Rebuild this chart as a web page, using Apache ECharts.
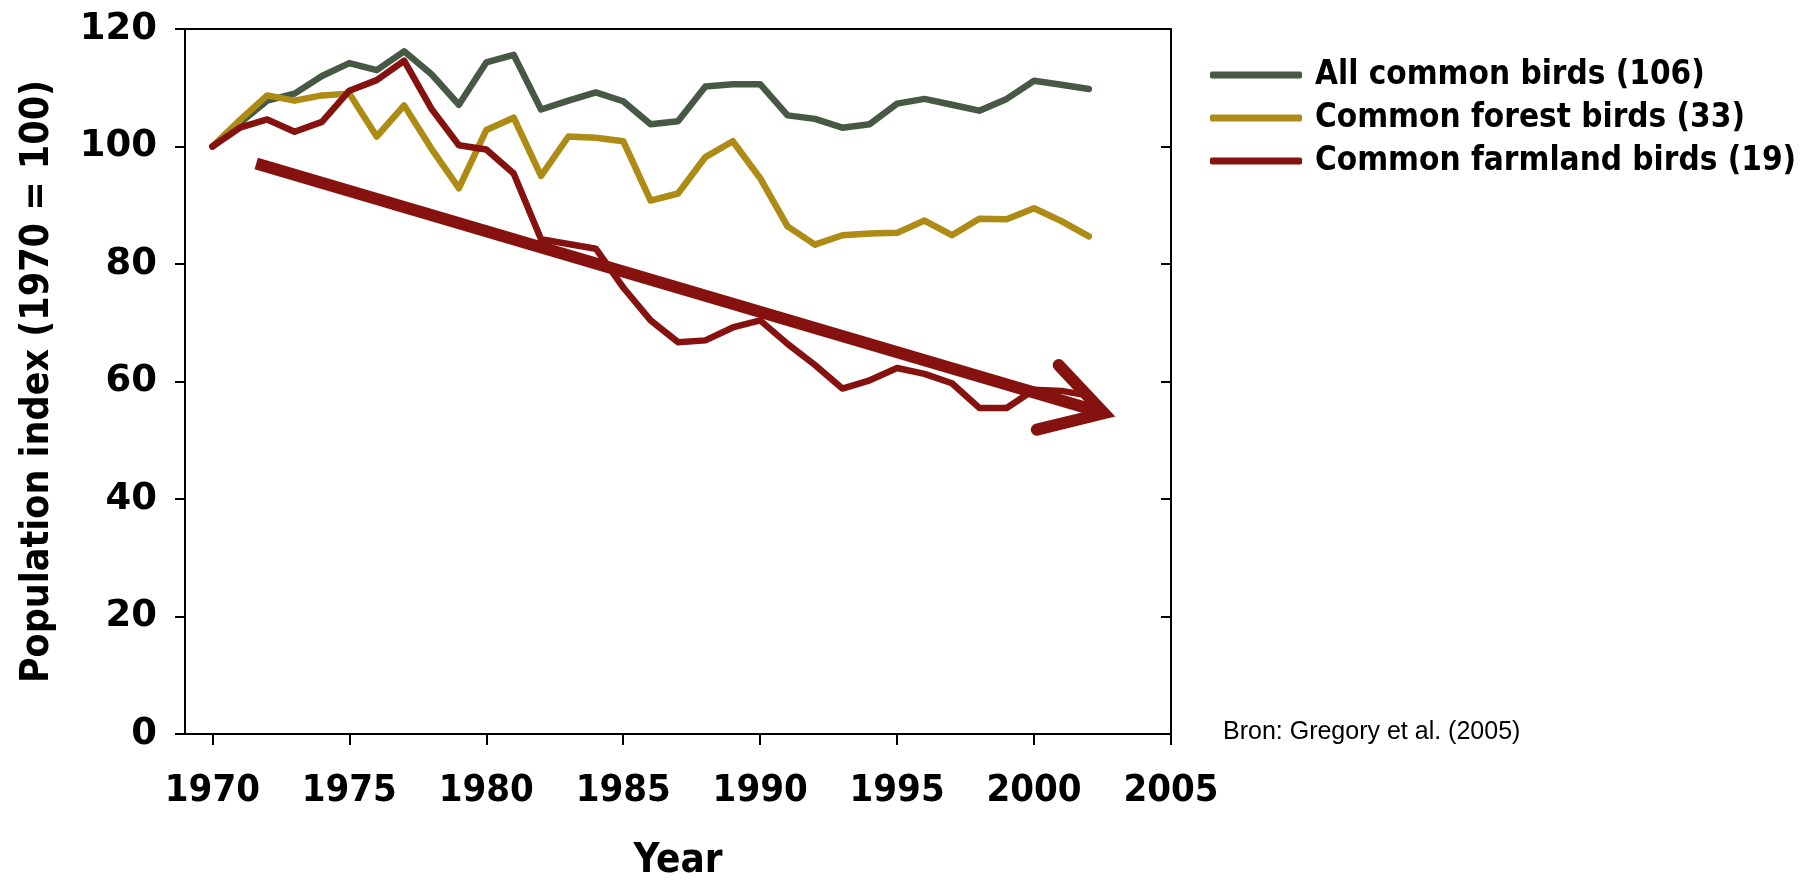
<!DOCTYPE html>
<html>
<head>
<meta charset="utf-8">
<script src="https://cdn.jsdelivr.net/npm/echarts@6/dist/echarts.min.js"></script>
<style>
html,body{margin:0;padding:0;background:#fff;}
#chart{width:1806px;height:887px;}
</style>
</head>
<body>
<div id="chart"></div>
<script>
// data
var years = [1970,1971,1972,1973,1974,1975,1976,1977,1978,1979,1980,1981,1982,1983,1984,1985,1986,1987,1988,1989,1990,1991,1992,1993,1994,1995,1996,1997,1998,1999,2000,2001,2002];
var allBirds = [100,104,107.8,109,112,114.2,113,116.2,112.3,107.1,114.3,115.6,106.3,107.8,109.2,107.7,103.8,104.3,110.2,110.6,110.6,105.3,104.7,103.2,103.8,107.3,108.1,107.1,106.1,108.1,111.2,110.5,109.8];
var forestBirds = [100,104.5,108.7,107.8,108.7,109,101.7,107,99.6,92.9,102.8,104.9,95,101.7,101.5,100.9,90.8,92,98.2,100.9,94.6,86.4,83.3,84.9,85.2,85.3,87.4,84.9,87.7,87.6,89.5,87.3,84.7];
var farmBirds = [100,103.2,104.6,102.5,104.2,109.5,111.3,114.6,106.4,100.2,99.5,95.4,84.2,83.4,82.6,76,70.4,66.7,67,69.2,70.4,66.4,62.8,58.8,60.2,62.3,61.3,59.7,55.5,55.5,58.6,58.4,57.6];
var seriesNames = ['All common birds (106)','Common forest birds (33)','Common farmland birds (19)'];
var xTicks = [1970,1975,1980,1985,1990,1995,2000,2005];
// trend arrow (data units)
var trendShaft = [[1971.6,97.1],[2002.2,55.1]];
var trendHead = [[2000.9,62.8],[2002.55,54.6],[2000.1,51.8]];

var colors = ['#475845','#ad8b14','#86120f'];
var narrow = '"Liberation Sans Narrow","DejaVu Sans Condensed",sans-serif';

function pairs(vals){
	var out = [];
	for(var i=0;i<years.length;i++){ out.push([years[i], vals[i]]); }
	return out;
}

var myChart = echarts.init(document.getElementById('chart'));
var lineSeries = [];
var sets = [allBirds, forestBirds, farmBirds];
for(var v=0; v<sets.length; v++){
	lineSeries.push({
		name: seriesNames[v],
		type: 'line',
		data: pairs(sets[v]),
		showSymbol: false,
		symbol: 'none',
		animation: false,
		z: 3 + v,
		lineStyle: {width: 6.5, color: colors[v], cap: 'round', join: 'round'}
	});
}
lineSeries.push({
	type: 'line', data: trendShaft, symbol: 'none', silent: true, animation: false, z: 10,
	lineStyle: {width: 12, color: colors[2], cap: 'butt'}
});
lineSeries.push({
	type: 'line', data: trendHead, symbol: 'none', silent: true, animation: false, z: 10,
	lineStyle: {width: 12, color: colors[2], cap: 'round', join: 'miter', miterLimit: 10}
});

var option = {
	backgroundColor: '#fff',
	color: colors,
	grid: {left: 185, right: 635, top: 29, bottom: 149, containLabel: false},
	legend: {
		orient: 'vertical',
		left: 1205,
		top: 52,
		data: seriesNames,
		icon: 'roundRect',
		itemWidth: 92,
		itemHeight: 7,
		itemGap: 7,
		textStyle: {fontFamily: narrow, fontWeight: 'bold', fontSize: 33, color: '#000', lineHeight: 36, padding: [0,0,0,8]}
	},
	xAxis: [{
		type: 'value', min: 1969, max: 2005,
		name: 'Year', nameLocation: 'middle', nameGap: 108,
		nameTextStyle: {fontFamily: narrow, fontWeight: 'bold', fontSize: 40, color: '#000'},
		axisLine: {show: true, onZero: false, lineStyle: {color: '#000', width: 2}},
		axisTick: {show: true, length: 11, customValues: xTicks, lineStyle: {color: '#000', width: 2}},
		axisLabel: {customValues: xTicks, margin: 38, fontFamily: narrow, fontWeight: 'bold', fontSize: 38, color: '#000',
			formatter: function(val){ return String(val); }},
		splitLine: {show: false}
	},{
		type: 'value', min: 1969, max: 2005, position: 'top',
		axisLine: {show: true, onZero: false, lineStyle: {color: '#000', width: 2}},
		axisTick: {show: false}, axisLabel: {show: false}, splitLine: {show: false}
	}],
	yAxis: [{
		type: 'value', min: 0, max: 120, interval: 20,
		name: 'Population index (1970 = 100)', nameLocation: 'middle', nameRotate: 90, nameGap: 128,
		nameTextStyle: {fontFamily: narrow, fontWeight: 'bold', fontSize: 39, color: '#000'},
		axisLine: {show: true, onZero: false, lineStyle: {color: '#000', width: 2}},
		axisTick: {show: true, length: 10, lineStyle: {color: '#000', width: 2}},
		axisLabel: {margin: 28, fontFamily: '"DejaVu Sans",sans-serif', fontWeight: 'bold', fontSize: 37, color: '#000'},
		splitLine: {show: false}
	},{
		type: 'value', min: 0, max: 120, interval: 20, position: 'right',
		axisLine: {show: true, onZero: false, lineStyle: {color: '#000', width: 2}},
		axisTick: {show: true, inside: true, length: 10, lineStyle: {color: '#000', width: 2}},
		axisLabel: {show: false}, splitLine: {show: false}
	}],
	graphic: [{
		type: 'text', left: 1223, top: 720,
		style: {text: 'Bron: Gregory et al. (2005)', font: '25px "Liberation Sans", Arial, sans-serif', fill: '#000'}
	}],
	series: lineSeries
};
myChart.setOption(option);
</script>
</body>
</html>
